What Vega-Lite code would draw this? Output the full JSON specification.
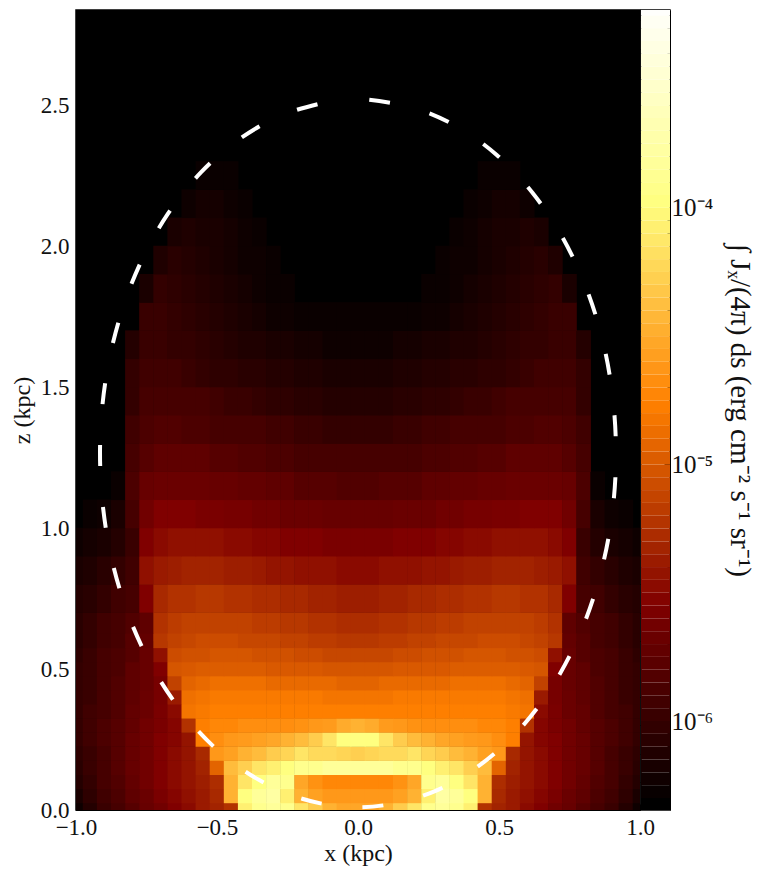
{"$schema":"https://vega.github.io/schema/vega-lite/v6.json","background":"white","padding":{"left":9,"top":8,"right":0,"bottom":0},"spacing":1,"bounds":"flush",
"config":{"axis":{"grid":false,"labelFont":"Liberation Serif","titleFont":"Liberation Serif","labelFontSize":23,"titleFontSize":24,"titleFontWeight":"normal","labelColor":"#111","titleColor":"#111","domainColor":"black","tickColor":"black","labelBound":false,"labelFlush":false,"zindex":1}},
"hconcat":[{"width":564,"height":800,"view":{"fill":"black","stroke":"black","strokeWidth":1.5},
"resolve":{"axis":{"x":"independent","y":"independent"}},
"layer":[
{"data":{"values":[
{"x":-1,"z":0.65,"v":8e-7},{"x":-0.95,"z":0.65,"v":9.2e-7},{"x":-0.9,"z":0.65,"v":1.1e-6},{"x":-0.85,"z":0.65,"v":1.2e-6},{"x":-0.8,"z":0.65,"v":1.4e-6},{"x":-0.75,"z":0.65,"v":1.7e-6},{"x":-0.7,"z":0.65,"v":5.5e-6},{"x":-0.65,"z":0.65,"v":6.3e-6},{"x":-0.6,"z":0.65,"v":6.8e-6},{"x":-0.55,"z":0.65,"v":6.8e-6},{"x":-0.5,"z":0.65,"v":6.8e-6},{"x":-0.45,"z":0.65,"v":6.8e-6},{"x":-0.4,"z":0.65,"v":6.8e-6},{"x":-0.35,"z":0.65,"v":6.3e-6},{"x":-0.3,"z":0.65,"v":6.3e-6},{"x":-0.25,"z":0.65,"v":5.9e-6},{"x":-0.2,"z":0.65,"v":5.9e-6},{"x":-0.15,"z":0.65,"v":5.5e-6},{"x":-0.1,"z":0.65,"v":5.5e-6},{"x":-0.05,"z":0.65,"v":5.1e-6},{"x":0,"z":0.65,"v":5.1e-6},{"x":0.05,"z":0.65,"v":5.1e-6},{"x":0.1,"z":0.65,"v":5.5e-6},{"x":0.15,"z":0.65,"v":5.5e-6},{"x":0.2,"z":0.65,"v":5.9e-6},{"x":0.25,"z":0.65,"v":5.9e-6},{"x":0.3,"z":0.65,"v":6.3e-6},{"x":0.35,"z":0.65,"v":6.3e-6},{"x":0.4,"z":0.65,"v":6.8e-6},{"x":0.45,"z":0.65,"v":6.8e-6},{"x":0.5,"z":0.65,"v":6.8e-6},{"x":0.55,"z":0.65,"v":6.8e-6},{"x":0.6,"z":0.65,"v":6.8e-6},{"x":0.65,"z":0.65,"v":6.3e-6},{"x":0.7,"z":0.65,"v":5.5e-6},{"x":0.75,"z":0.65,"v":1.7e-6},{"x":0.8,"z":0.65,"v":1.4e-6},{"x":0.85,"z":0.65,"v":1.2e-6},{"x":0.9,"z":0.65,"v":1.1e-6},{"x":0.95,"z":0.65,"v":9.2e-7},{"x":1,"z":0.65,"v":8e-7},
{"x":-1,"z":0.75,"v":7.5e-7},{"x":-0.95,"z":0.75,"v":8e-7},{"x":-0.9,"z":0.75,"v":9.2e-7},{"x":-0.85,"z":0.75,"v":1.1e-6},{"x":-0.8,"z":0.75,"v":1.2e-6},{"x":-0.75,"z":0.75,"v":2.7e-6},{"x":-0.7,"z":0.75,"v":4.8e-6},{"x":-0.65,"z":0.75,"v":5.5e-6},{"x":-0.6,"z":0.75,"v":5.5e-6},{"x":-0.55,"z":0.75,"v":5.9e-6},{"x":-0.5,"z":0.75,"v":5.9e-6},{"x":-0.45,"z":0.75,"v":5.5e-6},{"x":-0.4,"z":0.75,"v":5.5e-6},{"x":-0.35,"z":0.75,"v":5.1e-6},{"x":-0.3,"z":0.75,"v":5.1e-6},{"x":-0.25,"z":0.75,"v":4.8e-6},{"x":-0.2,"z":0.75,"v":4.8e-6},{"x":-0.15,"z":0.75,"v":4.4e-6},{"x":-0.1,"z":0.75,"v":4.4e-6},{"x":-0.05,"z":0.75,"v":4.1e-6},{"x":0,"z":0.75,"v":4.1e-6},{"x":0.05,"z":0.75,"v":4.1e-6},{"x":0.1,"z":0.75,"v":4.4e-6},{"x":0.15,"z":0.75,"v":4.4e-6},{"x":0.2,"z":0.75,"v":4.8e-6},{"x":0.25,"z":0.75,"v":4.8e-6},{"x":0.3,"z":0.75,"v":5.1e-6},{"x":0.35,"z":0.75,"v":5.1e-6},{"x":0.4,"z":0.75,"v":5.5e-6},{"x":0.45,"z":0.75,"v":5.5e-6},{"x":0.5,"z":0.75,"v":5.9e-6},{"x":0.55,"z":0.75,"v":5.9e-6},{"x":0.6,"z":0.75,"v":5.5e-6},{"x":0.65,"z":0.75,"v":5.5e-6},{"x":0.7,"z":0.75,"v":4.8e-6},{"x":0.75,"z":0.75,"v":2.7e-6},{"x":0.8,"z":0.75,"v":1.2e-6},{"x":0.85,"z":0.75,"v":1.1e-6},{"x":0.9,"z":0.75,"v":9.2e-7},{"x":0.95,"z":0.75,"v":8e-7},{"x":1,"z":0.75,"v":7.5e-7},
{"x":-1,"z":0.85,"v":6.5e-7},{"x":-0.95,"z":0.85,"v":7e-7},{"x":-0.9,"z":0.85,"v":8e-7},{"x":-0.85,"z":0.85,"v":9.2e-7},{"x":-0.8,"z":0.85,"v":1.1e-6},{"x":-0.75,"z":0.85,"v":3.4e-6},{"x":-0.7,"z":0.85,"v":3.9e-6},{"x":-0.65,"z":0.85,"v":4.1e-6},{"x":-0.6,"z":0.85,"v":4.4e-6},{"x":-0.55,"z":0.85,"v":4.4e-6},{"x":-0.5,"z":0.85,"v":4.4e-6},{"x":-0.45,"z":0.85,"v":4.1e-6},{"x":-0.4,"z":0.85,"v":4.1e-6},{"x":-0.35,"z":0.85,"v":3.9e-6},{"x":-0.3,"z":0.85,"v":3.6e-6},{"x":-0.25,"z":0.85,"v":3.6e-6},{"x":-0.2,"z":0.85,"v":3.4e-6},{"x":-0.15,"z":0.85,"v":3.4e-6},{"x":-0.1,"z":0.85,"v":3.4e-6},{"x":-0.05,"z":0.85,"v":3.1e-6},{"x":0,"z":0.85,"v":3.1e-6},{"x":0.05,"z":0.85,"v":3.1e-6},{"x":0.1,"z":0.85,"v":3.4e-6},{"x":0.15,"z":0.85,"v":3.4e-6},{"x":0.2,"z":0.85,"v":3.4e-6},{"x":0.25,"z":0.85,"v":3.6e-6},{"x":0.3,"z":0.85,"v":3.6e-6},{"x":0.35,"z":0.85,"v":3.9e-6},{"x":0.4,"z":0.85,"v":4.1e-6},{"x":0.45,"z":0.85,"v":4.1e-6},{"x":0.5,"z":0.85,"v":4.4e-6},{"x":0.55,"z":0.85,"v":4.4e-6},{"x":0.6,"z":0.85,"v":4.4e-6},{"x":0.65,"z":0.85,"v":4.1e-6},{"x":0.7,"z":0.85,"v":3.9e-6},{"x":0.75,"z":0.85,"v":3.4e-6},{"x":0.8,"z":0.85,"v":1.1e-6},{"x":0.85,"z":0.85,"v":9.2e-7},{"x":0.9,"z":0.85,"v":8e-7},{"x":0.95,"z":0.85,"v":7e-7},{"x":1,"z":0.85,"v":6.5e-7},
{"x":-1,"z":0.95,"v":5.5e-7},{"x":-0.95,"z":0.95,"v":6e-7},{"x":-0.9,"z":0.95,"v":6.5e-7},{"x":-0.85,"z":0.95,"v":7.5e-7},{"x":-0.8,"z":0.95,"v":1e-6},{"x":-0.75,"z":0.95,"v":2.7e-6},{"x":-0.7,"z":0.95,"v":3.1e-6},{"x":-0.65,"z":0.95,"v":3.4e-6},{"x":-0.6,"z":0.95,"v":3.4e-6},{"x":-0.55,"z":0.95,"v":3.4e-6},{"x":-0.5,"z":0.95,"v":3.4e-6},{"x":-0.45,"z":0.95,"v":3.1e-6},{"x":-0.4,"z":0.95,"v":3.1e-6},{"x":-0.35,"z":0.95,"v":2.9e-6},{"x":-0.3,"z":0.95,"v":2.9e-6},{"x":-0.25,"z":0.95,"v":2.7e-6},{"x":-0.2,"z":0.95,"v":2.7e-6},{"x":-0.15,"z":0.95,"v":2.7e-6},{"x":-0.1,"z":0.95,"v":2.5e-6},{"x":-0.05,"z":0.95,"v":2.5e-6},{"x":0,"z":0.95,"v":2.5e-6},{"x":0.05,"z":0.95,"v":2.5e-6},{"x":0.1,"z":0.95,"v":2.5e-6},{"x":0.15,"z":0.95,"v":2.7e-6},{"x":0.2,"z":0.95,"v":2.7e-6},{"x":0.25,"z":0.95,"v":2.7e-6},{"x":0.3,"z":0.95,"v":2.9e-6},{"x":0.35,"z":0.95,"v":2.9e-6},{"x":0.4,"z":0.95,"v":3.1e-6},{"x":0.45,"z":0.95,"v":3.1e-6},{"x":0.5,"z":0.95,"v":3.4e-6},{"x":0.55,"z":0.95,"v":3.4e-6},{"x":0.6,"z":0.95,"v":3.4e-6},{"x":0.65,"z":0.95,"v":3.4e-6},{"x":0.7,"z":0.95,"v":3.1e-6},{"x":0.75,"z":0.95,"v":2.7e-6},{"x":0.8,"z":0.95,"v":1e-6},{"x":0.85,"z":0.95,"v":7.5e-7},{"x":0.9,"z":0.95,"v":6.5e-7},{"x":0.95,"z":0.95,"v":6e-7},{"x":1,"z":0.95,"v":5.5e-7},
{"x":-0.95,"z":1.05,"v":5.2e-7},{"x":-0.9,"z":1.05,"v":5.5e-7},{"x":-0.85,"z":1.05,"v":6.5e-7},{"x":-0.8,"z":1.05,"v":1.2e-6},{"x":-0.75,"z":1.05,"v":2.2e-6},{"x":-0.7,"z":1.05,"v":2.7e-6},{"x":-0.65,"z":1.05,"v":2.7e-6},{"x":-0.6,"z":1.05,"v":2.7e-6},{"x":-0.55,"z":1.05,"v":2.5e-6},{"x":-0.5,"z":1.05,"v":2.5e-6},{"x":-0.45,"z":1.05,"v":2.4e-6},{"x":-0.4,"z":1.05,"v":2.4e-6},{"x":-0.35,"z":1.05,"v":2.2e-6},{"x":-0.3,"z":1.05,"v":2.2e-6},{"x":-0.25,"z":1.05,"v":2e-6},{"x":-0.2,"z":1.05,"v":2e-6},{"x":-0.15,"z":1.05,"v":2e-6},{"x":-0.1,"z":1.05,"v":1.9e-6},{"x":-0.05,"z":1.05,"v":1.9e-6},{"x":0,"z":1.05,"v":1.9e-6},{"x":0.05,"z":1.05,"v":1.9e-6},{"x":0.1,"z":1.05,"v":1.9e-6},{"x":0.15,"z":1.05,"v":2e-6},{"x":0.2,"z":1.05,"v":2e-6},{"x":0.25,"z":1.05,"v":2e-6},{"x":0.3,"z":1.05,"v":2.2e-6},{"x":0.35,"z":1.05,"v":2.2e-6},{"x":0.4,"z":1.05,"v":2.4e-6},{"x":0.45,"z":1.05,"v":2.4e-6},{"x":0.5,"z":1.05,"v":2.5e-6},{"x":0.55,"z":1.05,"v":2.5e-6},{"x":0.6,"z":1.05,"v":2.7e-6},{"x":0.65,"z":1.05,"v":2.7e-6},{"x":0.7,"z":1.05,"v":2.7e-6},{"x":0.75,"z":1.05,"v":2.2e-6},{"x":0.8,"z":1.05,"v":1.2e-6},{"x":0.85,"z":1.05,"v":6.5e-7},{"x":0.9,"z":1.05,"v":5.5e-7},{"x":0.95,"z":1.05,"v":5.2e-7},
{"x":-0.85,"z":1.15,"v":5.2e-7},{"x":-0.8,"z":1.15,"v":1.3e-6},{"x":-0.75,"z":1.15,"v":1.9e-6},{"x":-0.7,"z":1.15,"v":2e-6},{"x":-0.65,"z":1.15,"v":2e-6},{"x":-0.6,"z":1.15,"v":2e-6},{"x":-0.55,"z":1.15,"v":2e-6},{"x":-0.5,"z":1.15,"v":1.9e-6},{"x":-0.45,"z":1.15,"v":1.9e-6},{"x":-0.4,"z":1.15,"v":1.8e-6},{"x":-0.35,"z":1.15,"v":1.8e-6},{"x":-0.3,"z":1.15,"v":1.7e-6},{"x":-0.25,"z":1.15,"v":1.7e-6},{"x":-0.2,"z":1.15,"v":1.5e-6},{"x":-0.15,"z":1.15,"v":1.5e-6},{"x":-0.1,"z":1.15,"v":1.5e-6},{"x":-0.05,"z":1.15,"v":1.4e-6},{"x":0,"z":1.15,"v":1.4e-6},{"x":0.05,"z":1.15,"v":1.4e-6},{"x":0.1,"z":1.15,"v":1.5e-6},{"x":0.15,"z":1.15,"v":1.5e-6},{"x":0.2,"z":1.15,"v":1.5e-6},{"x":0.25,"z":1.15,"v":1.7e-6},{"x":0.3,"z":1.15,"v":1.7e-6},{"x":0.35,"z":1.15,"v":1.8e-6},{"x":0.4,"z":1.15,"v":1.8e-6},{"x":0.45,"z":1.15,"v":1.9e-6},{"x":0.5,"z":1.15,"v":1.9e-6},{"x":0.55,"z":1.15,"v":2e-6},{"x":0.6,"z":1.15,"v":2e-6},{"x":0.65,"z":1.15,"v":2e-6},{"x":0.7,"z":1.15,"v":2e-6},{"x":0.75,"z":1.15,"v":1.9e-6},{"x":0.8,"z":1.15,"v":1.3e-6},{"x":0.85,"z":1.15,"v":5.2e-7},
{"x":-0.8,"z":1.25,"v":1.2e-6},{"x":-0.75,"z":1.25,"v":1.5e-6},{"x":-0.7,"z":1.25,"v":1.7e-6},{"x":-0.65,"z":1.25,"v":1.7e-6},{"x":-0.6,"z":1.25,"v":1.7e-6},{"x":-0.55,"z":1.25,"v":1.7e-6},{"x":-0.5,"z":1.25,"v":1.5e-6},{"x":-0.45,"z":1.25,"v":1.5e-6},{"x":-0.4,"z":1.25,"v":1.4e-6},{"x":-0.35,"z":1.25,"v":1.4e-6},{"x":-0.3,"z":1.25,"v":1.3e-6},{"x":-0.25,"z":1.25,"v":1.3e-6},{"x":-0.2,"z":1.25,"v":1.2e-6},{"x":-0.15,"z":1.25,"v":1.2e-6},{"x":-0.1,"z":1.25,"v":1.2e-6},{"x":-0.05,"z":1.25,"v":1.2e-6},{"x":0,"z":1.25,"v":1.2e-6},{"x":0.05,"z":1.25,"v":1.2e-6},{"x":0.1,"z":1.25,"v":1.2e-6},{"x":0.15,"z":1.25,"v":1.2e-6},{"x":0.2,"z":1.25,"v":1.2e-6},{"x":0.25,"z":1.25,"v":1.3e-6},{"x":0.3,"z":1.25,"v":1.3e-6},{"x":0.35,"z":1.25,"v":1.4e-6},{"x":0.4,"z":1.25,"v":1.4e-6},{"x":0.45,"z":1.25,"v":1.5e-6},{"x":0.5,"z":1.25,"v":1.5e-6},{"x":0.55,"z":1.25,"v":1.7e-6},{"x":0.6,"z":1.25,"v":1.7e-6},{"x":0.65,"z":1.25,"v":1.7e-6},{"x":0.7,"z":1.25,"v":1.7e-6},{"x":0.75,"z":1.25,"v":1.5e-6},{"x":0.8,"z":1.25,"v":1.2e-6},
{"x":-0.8,"z":1.35,"v":1.1e-6},{"x":-0.75,"z":1.35,"v":1.3e-6},{"x":-0.7,"z":1.35,"v":1.4e-6},{"x":-0.65,"z":1.35,"v":1.4e-6},{"x":-0.6,"z":1.35,"v":1.3e-6},{"x":-0.55,"z":1.35,"v":1.3e-6},{"x":-0.5,"z":1.35,"v":1.2e-6},{"x":-0.45,"z":1.35,"v":1.2e-6},{"x":-0.4,"z":1.35,"v":1.2e-6},{"x":-0.35,"z":1.35,"v":1.2e-6},{"x":-0.3,"z":1.35,"v":1.1e-6},{"x":-0.25,"z":1.35,"v":1.1e-6},{"x":-0.2,"z":1.35,"v":1e-6},{"x":-0.15,"z":1.35,"v":1e-6},{"x":-0.1,"z":1.35,"v":9.2e-7},{"x":-0.05,"z":1.35,"v":9.2e-7},{"x":0,"z":1.35,"v":9.2e-7},{"x":0.05,"z":1.35,"v":9.2e-7},{"x":0.1,"z":1.35,"v":9.2e-7},{"x":0.15,"z":1.35,"v":1e-6},{"x":0.2,"z":1.35,"v":1e-6},{"x":0.25,"z":1.35,"v":1.1e-6},{"x":0.3,"z":1.35,"v":1.1e-6},{"x":0.35,"z":1.35,"v":1.2e-6},{"x":0.4,"z":1.35,"v":1.2e-6},{"x":0.45,"z":1.35,"v":1.2e-6},{"x":0.5,"z":1.35,"v":1.2e-6},{"x":0.55,"z":1.35,"v":1.3e-6},{"x":0.6,"z":1.35,"v":1.3e-6},{"x":0.65,"z":1.35,"v":1.4e-6},{"x":0.7,"z":1.35,"v":1.4e-6},{"x":0.75,"z":1.35,"v":1.3e-6},{"x":0.8,"z":1.35,"v":1.1e-6},
{"x":-0.8,"z":1.45,"v":9.2e-7},{"x":-0.75,"z":1.45,"v":1.2e-6},{"x":-0.7,"z":1.45,"v":1.2e-6},{"x":-0.65,"z":1.45,"v":1.2e-6},{"x":-0.6,"z":1.45,"v":1.2e-6},{"x":-0.55,"z":1.45,"v":1.2e-6},{"x":-0.5,"z":1.45,"v":1.1e-6},{"x":-0.45,"z":1.45,"v":1e-6},{"x":-0.4,"z":1.45,"v":1e-6},{"x":-0.35,"z":1.45,"v":9.2e-7},{"x":-0.3,"z":1.45,"v":8.6e-7},{"x":-0.25,"z":1.45,"v":8.6e-7},{"x":-0.2,"z":1.45,"v":8e-7},{"x":-0.15,"z":1.45,"v":8e-7},{"x":-0.1,"z":1.45,"v":7.5e-7},{"x":-0.05,"z":1.45,"v":7.5e-7},{"x":0,"z":1.45,"v":7.5e-7},{"x":0.05,"z":1.45,"v":7.5e-7},{"x":0.1,"z":1.45,"v":7.5e-7},{"x":0.15,"z":1.45,"v":8e-7},{"x":0.2,"z":1.45,"v":8e-7},{"x":0.25,"z":1.45,"v":8.6e-7},{"x":0.3,"z":1.45,"v":8.6e-7},{"x":0.35,"z":1.45,"v":9.2e-7},{"x":0.4,"z":1.45,"v":1e-6},{"x":0.45,"z":1.45,"v":1e-6},{"x":0.5,"z":1.45,"v":1.1e-6},{"x":0.55,"z":1.45,"v":1.2e-6},{"x":0.6,"z":1.45,"v":1.2e-6},{"x":0.65,"z":1.45,"v":1.2e-6},{"x":0.7,"z":1.45,"v":1.2e-6},{"x":0.75,"z":1.45,"v":1.2e-6},{"x":0.8,"z":1.45,"v":9.2e-7},
{"x":-0.8,"z":1.55,"v":9.2e-7},{"x":-0.75,"z":1.55,"v":1.1e-6},{"x":-0.7,"z":1.55,"v":1.1e-6},{"x":-0.65,"z":1.55,"v":1.1e-6},{"x":-0.6,"z":1.55,"v":1e-6},{"x":-0.55,"z":1.55,"v":9.2e-7},{"x":-0.5,"z":1.55,"v":8.6e-7},{"x":-0.45,"z":1.55,"v":8.6e-7},{"x":-0.4,"z":1.55,"v":8e-7},{"x":-0.35,"z":1.55,"v":8e-7},{"x":-0.3,"z":1.55,"v":7.5e-7},{"x":-0.25,"z":1.55,"v":7.5e-7},{"x":-0.2,"z":1.55,"v":7e-7},{"x":-0.15,"z":1.55,"v":7e-7},{"x":-0.1,"z":1.55,"v":6.5e-7},{"x":-0.05,"z":1.55,"v":6.5e-7},{"x":0,"z":1.55,"v":6.5e-7},{"x":0.05,"z":1.55,"v":6.5e-7},{"x":0.1,"z":1.55,"v":6.5e-7},{"x":0.15,"z":1.55,"v":7e-7},{"x":0.2,"z":1.55,"v":7e-7},{"x":0.25,"z":1.55,"v":7.5e-7},{"x":0.3,"z":1.55,"v":7.5e-7},{"x":0.35,"z":1.55,"v":8e-7},{"x":0.4,"z":1.55,"v":8e-7},{"x":0.45,"z":1.55,"v":8.6e-7},{"x":0.5,"z":1.55,"v":8.6e-7},{"x":0.55,"z":1.55,"v":9.2e-7},{"x":0.6,"z":1.55,"v":1e-6},{"x":0.65,"z":1.55,"v":1.1e-6},{"x":0.7,"z":1.55,"v":1.1e-6},{"x":0.75,"z":1.55,"v":1.1e-6},{"x":0.8,"z":1.55,"v":9.2e-7},
{"x":-0.8,"z":1.65,"v":7.5e-7},{"x":-0.75,"z":1.65,"v":1e-6},{"x":-0.7,"z":1.65,"v":1e-6},{"x":-0.65,"z":1.65,"v":9.2e-7},{"x":-0.6,"z":1.65,"v":9.2e-7},{"x":-0.55,"z":1.65,"v":8.6e-7},{"x":-0.5,"z":1.65,"v":8e-7},{"x":-0.45,"z":1.65,"v":7.5e-7},{"x":-0.4,"z":1.65,"v":7e-7},{"x":-0.35,"z":1.65,"v":7e-7},{"x":-0.3,"z":1.65,"v":6.5e-7},{"x":-0.25,"z":1.65,"v":6.5e-7},{"x":-0.2,"z":1.65,"v":6e-7},{"x":-0.15,"z":1.65,"v":6e-7},{"x":-0.1,"z":1.65,"v":5.5e-7},{"x":-0.05,"z":1.65,"v":5.5e-7},{"x":0,"z":1.65,"v":5.5e-7},{"x":0.05,"z":1.65,"v":5.5e-7},{"x":0.1,"z":1.65,"v":5.5e-7},{"x":0.15,"z":1.65,"v":6e-7},{"x":0.2,"z":1.65,"v":6e-7},{"x":0.25,"z":1.65,"v":6.5e-7},{"x":0.3,"z":1.65,"v":6.5e-7},{"x":0.35,"z":1.65,"v":7e-7},{"x":0.4,"z":1.65,"v":7e-7},{"x":0.45,"z":1.65,"v":7.5e-7},{"x":0.5,"z":1.65,"v":8e-7},{"x":0.55,"z":1.65,"v":8.6e-7},{"x":0.6,"z":1.65,"v":9.2e-7},{"x":0.65,"z":1.65,"v":9.2e-7},{"x":0.7,"z":1.65,"v":1e-6},{"x":0.75,"z":1.65,"v":1e-6},{"x":0.8,"z":1.65,"v":7.5e-7},
{"x":-0.75,"z":1.75,"v":1e-6},{"x":-0.7,"z":1.75,"v":1e-6},{"x":-0.65,"z":1.75,"v":9.2e-7},{"x":-0.6,"z":1.75,"v":8.6e-7},{"x":-0.55,"z":1.75,"v":8e-7},{"x":-0.5,"z":1.75,"v":7.5e-7},{"x":-0.45,"z":1.75,"v":7e-7},{"x":-0.4,"z":1.75,"v":6.5e-7},{"x":-0.35,"z":1.75,"v":6e-7},{"x":-0.3,"z":1.75,"v":5.5e-7},{"x":-0.25,"z":1.75,"v":5.5e-7},{"x":-0.2,"z":1.75,"v":5.2e-7},{"x":-0.15,"z":1.75,"v":5.2e-7},{"x":-0.1,"z":1.75,"v":5.2e-7},{"x":-0.05,"z":1.75,"v":5.2e-7},{"x":0,"z":1.75,"v":5.2e-7},{"x":0.05,"z":1.75,"v":5.2e-7},{"x":0.1,"z":1.75,"v":5.2e-7},{"x":0.15,"z":1.75,"v":5.2e-7},{"x":0.2,"z":1.75,"v":5.2e-7},{"x":0.25,"z":1.75,"v":5.5e-7},{"x":0.3,"z":1.75,"v":5.5e-7},{"x":0.35,"z":1.75,"v":6e-7},{"x":0.4,"z":1.75,"v":6.5e-7},{"x":0.45,"z":1.75,"v":7e-7},{"x":0.5,"z":1.75,"v":7.5e-7},{"x":0.55,"z":1.75,"v":8e-7},{"x":0.6,"z":1.75,"v":8.6e-7},{"x":0.65,"z":1.75,"v":9.2e-7},{"x":0.7,"z":1.75,"v":1e-6},{"x":0.75,"z":1.75,"v":1e-6},
{"x":-0.75,"z":1.85,"v":6.5e-7},{"x":-0.7,"z":1.85,"v":9.2e-7},{"x":-0.65,"z":1.85,"v":8.6e-7},{"x":-0.6,"z":1.85,"v":8e-7},{"x":-0.55,"z":1.85,"v":7.5e-7},{"x":-0.5,"z":1.85,"v":7e-7},{"x":-0.45,"z":1.85,"v":6.5e-7},{"x":-0.4,"z":1.85,"v":6e-7},{"x":-0.35,"z":1.85,"v":5.5e-7},{"x":-0.3,"z":1.85,"v":5.2e-7},{"x":-0.25,"z":1.85,"v":5.2e-7},{"x":0.25,"z":1.85,"v":5.2e-7},{"x":0.3,"z":1.85,"v":5.2e-7},{"x":0.35,"z":1.85,"v":5.5e-7},{"x":0.4,"z":1.85,"v":6e-7},{"x":0.45,"z":1.85,"v":6.5e-7},{"x":0.5,"z":1.85,"v":7e-7},{"x":0.55,"z":1.85,"v":7.5e-7},{"x":0.6,"z":1.85,"v":8e-7},{"x":0.65,"z":1.85,"v":8.6e-7},{"x":0.7,"z":1.85,"v":9.2e-7},{"x":0.75,"z":1.85,"v":6.5e-7},
{"x":-0.7,"z":1.95,"v":7e-7},{"x":-0.65,"z":1.95,"v":8e-7},{"x":-0.6,"z":1.95,"v":7.5e-7},{"x":-0.55,"z":1.95,"v":7e-7},{"x":-0.5,"z":1.95,"v":6.5e-7},{"x":-0.45,"z":1.95,"v":6e-7},{"x":-0.4,"z":1.95,"v":5.5e-7},{"x":-0.35,"z":1.95,"v":5.5e-7},{"x":-0.3,"z":1.95,"v":5.2e-7},{"x":0.3,"z":1.95,"v":5.2e-7},{"x":0.35,"z":1.95,"v":5.5e-7},{"x":0.4,"z":1.95,"v":5.5e-7},{"x":0.45,"z":1.95,"v":6e-7},{"x":0.5,"z":1.95,"v":6.5e-7},{"x":0.55,"z":1.95,"v":7e-7},{"x":0.6,"z":1.95,"v":7.5e-7},{"x":0.65,"z":1.95,"v":8e-7},{"x":0.7,"z":1.95,"v":7e-7},
{"x":-0.65,"z":2.05,"v":6.5e-7},{"x":-0.6,"z":2.05,"v":7e-7},{"x":-0.55,"z":2.05,"v":6.5e-7},{"x":-0.5,"z":2.05,"v":6.5e-7},{"x":-0.45,"z":2.05,"v":6e-7},{"x":-0.4,"z":2.05,"v":5.5e-7},{"x":-0.35,"z":2.05,"v":5.2e-7},{"x":0.35,"z":2.05,"v":5.2e-7},{"x":0.4,"z":2.05,"v":5.5e-7},{"x":0.45,"z":2.05,"v":6e-7},{"x":0.5,"z":2.05,"v":6.5e-7},{"x":0.55,"z":2.05,"v":6.5e-7},{"x":0.6,"z":2.05,"v":7e-7},{"x":0.65,"z":2.05,"v":6.5e-7},
{"x":-0.6,"z":2.15,"v":5.5e-7},{"x":-0.55,"z":2.15,"v":6e-7},{"x":-0.5,"z":2.15,"v":6e-7},{"x":-0.45,"z":2.15,"v":5.5e-7},{"x":-0.4,"z":2.15,"v":5.2e-7},{"x":0.4,"z":2.15,"v":5.2e-7},{"x":0.45,"z":2.15,"v":5.5e-7},{"x":0.5,"z":2.15,"v":6e-7},{"x":0.55,"z":2.15,"v":6e-7},{"x":0.6,"z":2.15,"v":5.5e-7},
{"x":-0.55,"z":2.25,"v":5.2e-7},{"x":-0.5,"z":2.25,"v":5.2e-7},{"x":-0.45,"z":2.25,"v":5.2e-7},{"x":0.45,"z":2.25,"v":5.2e-7},{"x":0.5,"z":2.25,"v":5.2e-7},{"x":0.55,"z":2.25,"v":5.2e-7}
]},"mark":{"type":"rect","width":14.6,"height":28.7,"clip":true},
"encoding":{"x":{"field":"x","type":"quantitative","scale":{"domain":[-1,1],"nice":false},"axis":{"title":"x (kpc)","labelOverlap":false,"values":[-1,-0.5,0,0.5,1],"labelExpr":"replace(format(datum.value,'.1f'),'-','−')","tickSize":-6,"labelPadding":12,"titlePadding":2}},
"y":{"field":"z","type":"quantitative","scale":{"domain":[0,2.837],"nice":false},"axis":{"title":"z (kpc)","labelOverlap":false,"values":[0,0.5,1,1.5,2,2.5],"format":".1f","tickSize":-6,"labelPadding":13,"titlePadding":6}},
"color":{"field":"v","type":"quantitative","legend":null,"scale":{"type":"log","domain":[4.5e-7,2.71e-6,1.63e-5,9.8e-5,5.9e-4],"range":["#000000","#800000","#ff8000","#ffff80","#ffffff"],"interpolate":"rgb","clamp":true}}}},
{"data":{"values":[
{"x":-1,"z":0,"v":5.5e-7},{"x":-0.95,"z":0,"v":7.5e-7},{"x":-0.9,"z":0,"v":1e-6},{"x":-0.85,"z":0,"v":1.2e-6},{"x":-0.8,"z":0,"v":1.5e-6},{"x":-0.75,"z":0,"v":1.9e-6},{"x":-0.7,"z":0,"v":2.2e-6},{"x":-0.65,"z":0,"v":2.7e-6},{"x":-0.6,"z":0,"v":3.1e-6},{"x":-0.55,"z":0,"v":3.9e-6},{"x":-0.5,"z":0,"v":4.4e-6},{"x":-0.45,"z":0,"v":5.5e-6},{"x":-0.4,"z":0,"v":7.9e-5},{"x":-0.35,"z":0,"v":1.2e-4},{"x":-0.3,"z":0,"v":1.4e-4},{"x":-0.25,"z":0,"v":1.2e-4},{"x":-0.2,"z":0,"v":6.8e-5},{"x":-0.15,"z":0,"v":4.8e-5},{"x":-0.1,"z":0,"v":3.3e-5},{"x":-0.05,"z":0,"v":2.8e-5},{"x":0,"z":0,"v":2.8e-5},{"x":0.05,"z":0,"v":2.8e-5},{"x":0.1,"z":0,"v":3.3e-5},{"x":0.15,"z":0,"v":4.8e-5},{"x":0.2,"z":0,"v":6.8e-5},{"x":0.25,"z":0,"v":1.2e-4},{"x":0.3,"z":0,"v":1.4e-4},{"x":0.35,"z":0,"v":1.2e-4},{"x":0.4,"z":0,"v":7.9e-5},{"x":0.45,"z":0,"v":5.5e-6},{"x":0.5,"z":0,"v":4.4e-6},{"x":0.55,"z":0,"v":3.9e-6},{"x":0.6,"z":0,"v":3.1e-6},{"x":0.65,"z":0,"v":2.7e-6},{"x":0.7,"z":0,"v":2.2e-6},{"x":0.75,"z":0,"v":1.9e-6},{"x":0.8,"z":0,"v":1.5e-6},{"x":0.85,"z":0,"v":1.2e-6},{"x":0.9,"z":0,"v":1e-6},{"x":0.95,"z":0,"v":7.5e-7},{"x":1,"z":0,"v":5.5e-7},
{"x":-1,"z":0.05,"v":6.5e-7},{"x":-0.95,"z":0.05,"v":8.6e-7},{"x":-0.9,"z":0.05,"v":1.1e-6},{"x":-0.85,"z":0.05,"v":1.3e-6},{"x":-0.8,"z":0.05,"v":1.7e-6},{"x":-0.75,"z":0.05,"v":2e-6},{"x":-0.7,"z":0.05,"v":2.5e-6},{"x":-0.65,"z":0.05,"v":2.9e-6},{"x":-0.6,"z":0.05,"v":3.4e-6},{"x":-0.55,"z":0.05,"v":3.9e-6},{"x":-0.5,"z":0.05,"v":4.8e-6},{"x":-0.45,"z":0.05,"v":3.3e-5},{"x":-0.4,"z":0.05,"v":9.8e-5},{"x":-0.35,"z":0.05,"v":1.4e-4},{"x":-0.3,"z":0.05,"v":1.6e-4},{"x":-0.25,"z":0.05,"v":7.9e-5},{"x":-0.2,"z":0.05,"v":3.3e-5},{"x":-0.15,"z":0.05,"v":2.6e-5},{"x":-0.1,"z":0.05,"v":2.3e-5},{"x":-0.05,"z":0.05,"v":2.3e-5},{"x":0,"z":0.05,"v":2.3e-5},{"x":0.05,"z":0.05,"v":2.3e-5},{"x":0.1,"z":0.05,"v":2.3e-5},{"x":0.15,"z":0.05,"v":2.6e-5},{"x":0.2,"z":0.05,"v":3.3e-5},{"x":0.25,"z":0.05,"v":7.9e-5},{"x":0.3,"z":0.05,"v":1.6e-4},{"x":0.35,"z":0.05,"v":1.4e-4},{"x":0.4,"z":0.05,"v":9.8e-5},{"x":0.45,"z":0.05,"v":3.3e-5},{"x":0.5,"z":0.05,"v":4.8e-6},{"x":0.55,"z":0.05,"v":3.9e-6},{"x":0.6,"z":0.05,"v":3.4e-6},{"x":0.65,"z":0.05,"v":2.9e-6},{"x":0.7,"z":0.05,"v":2.5e-6},{"x":0.75,"z":0.05,"v":2e-6},{"x":0.8,"z":0.05,"v":1.7e-6},{"x":0.85,"z":0.05,"v":1.3e-6},{"x":0.9,"z":0.05,"v":1.1e-6},{"x":0.95,"z":0.05,"v":8.6e-7},{"x":1,"z":0.05,"v":6.5e-7},
{"x":-1,"z":0.1,"v":7.5e-7},{"x":-0.95,"z":0.1,"v":9.2e-7},{"x":-0.9,"z":0.1,"v":1.2e-6},{"x":-0.85,"z":0.1,"v":1.4e-6},{"x":-0.8,"z":0.1,"v":1.8e-6},{"x":-0.75,"z":0.1,"v":2.2e-6},{"x":-0.7,"z":0.1,"v":2.7e-6},{"x":-0.65,"z":0.1,"v":3.1e-6},{"x":-0.6,"z":0.1,"v":3.6e-6},{"x":-0.55,"z":0.1,"v":4.1e-6},{"x":-0.5,"z":0.1,"v":5.1e-6},{"x":-0.45,"z":0.1,"v":3.3e-5},{"x":-0.4,"z":0.1,"v":6.8e-5},{"x":-0.35,"z":0.1,"v":9.8e-5},{"x":-0.3,"z":0.1,"v":1.4e-4},{"x":-0.25,"z":0.1,"v":1.2e-4},{"x":-0.2,"z":0.1,"v":2.8e-5},{"x":-0.15,"z":0.1,"v":2.1e-5},{"x":-0.1,"z":0.1,"v":1.8e-5},{"x":-0.05,"z":0.1,"v":1.8e-5},{"x":0,"z":0.1,"v":1.8e-5},{"x":0.05,"z":0.1,"v":1.8e-5},{"x":0.1,"z":0.1,"v":1.8e-5},{"x":0.15,"z":0.1,"v":2.1e-5},{"x":0.2,"z":0.1,"v":2.8e-5},{"x":0.25,"z":0.1,"v":1.2e-4},{"x":0.3,"z":0.1,"v":1.4e-4},{"x":0.35,"z":0.1,"v":9.8e-5},{"x":0.4,"z":0.1,"v":6.8e-5},{"x":0.45,"z":0.1,"v":3.3e-5},{"x":0.5,"z":0.1,"v":5.1e-6},{"x":0.55,"z":0.1,"v":4.1e-6},{"x":0.6,"z":0.1,"v":3.6e-6},{"x":0.65,"z":0.1,"v":3.1e-6},{"x":0.7,"z":0.1,"v":2.7e-6},{"x":0.75,"z":0.1,"v":2.2e-6},{"x":0.8,"z":0.1,"v":1.8e-6},{"x":0.85,"z":0.1,"v":1.4e-6},{"x":0.9,"z":0.1,"v":1.2e-6},{"x":0.95,"z":0.1,"v":9.2e-7},{"x":1,"z":0.1,"v":7.5e-7},
{"x":-1,"z":0.15,"v":8e-7},{"x":-0.95,"z":0.15,"v":1e-6},{"x":-0.9,"z":0.15,"v":1.2e-6},{"x":-0.85,"z":0.15,"v":1.5e-6},{"x":-0.8,"z":0.15,"v":1.9e-6},{"x":-0.75,"z":0.15,"v":2.2e-6},{"x":-0.7,"z":0.15,"v":2.7e-6},{"x":-0.65,"z":0.15,"v":3.1e-6},{"x":-0.6,"z":0.15,"v":3.6e-6},{"x":-0.55,"z":0.15,"v":4.4e-6},{"x":-0.5,"z":0.15,"v":1.1e-5},{"x":-0.45,"z":0.15,"v":3.8e-5},{"x":-0.4,"z":0.15,"v":5e-5},{"x":-0.35,"z":0.15,"v":6.8e-5},{"x":-0.3,"z":0.15,"v":7.9e-5},{"x":-0.25,"z":0.15,"v":9.8e-5},{"x":-0.2,"z":0.15,"v":1.2e-4},{"x":-0.15,"z":0.15,"v":1.2e-4},{"x":-0.1,"z":0.15,"v":1.4e-4},{"x":-0.05,"z":0.15,"v":1.4e-4},{"x":0,"z":0.15,"v":1.4e-4},{"x":0.05,"z":0.15,"v":1.4e-4},{"x":0.1,"z":0.15,"v":1.4e-4},{"x":0.15,"z":0.15,"v":1.2e-4},{"x":0.2,"z":0.15,"v":1.2e-4},{"x":0.25,"z":0.15,"v":9.8e-5},{"x":0.3,"z":0.15,"v":7.9e-5},{"x":0.35,"z":0.15,"v":6.8e-5},{"x":0.4,"z":0.15,"v":5e-5},{"x":0.45,"z":0.15,"v":3.8e-5},{"x":0.5,"z":0.15,"v":1.1e-5},{"x":0.55,"z":0.15,"v":4.4e-6},{"x":0.6,"z":0.15,"v":3.6e-6},{"x":0.65,"z":0.15,"v":3.1e-6},{"x":0.7,"z":0.15,"v":2.7e-6},{"x":0.75,"z":0.15,"v":2.2e-6},{"x":0.8,"z":0.15,"v":1.9e-6},{"x":0.85,"z":0.15,"v":1.5e-6},{"x":0.9,"z":0.15,"v":1.2e-6},{"x":0.95,"z":0.15,"v":1e-6},{"x":1,"z":0.15,"v":8e-7},
{"x":-1,"z":0.2,"v":8.6e-7},{"x":-0.95,"z":0.2,"v":1e-6},{"x":-0.9,"z":0.2,"v":1.2e-6},{"x":-0.85,"z":0.2,"v":1.5e-6},{"x":-0.8,"z":0.2,"v":1.9e-6},{"x":-0.75,"z":0.2,"v":2.2e-6},{"x":-0.7,"z":0.2,"v":2.7e-6},{"x":-0.65,"z":0.2,"v":3.1e-6},{"x":-0.6,"z":0.2,"v":3.6e-6},{"x":-0.55,"z":0.2,"v":4.8e-6},{"x":-0.5,"z":0.2,"v":2.3e-5},{"x":-0.45,"z":0.2,"v":2.6e-5},{"x":-0.4,"z":0.2,"v":3.3e-5},{"x":-0.35,"z":0.2,"v":3.8e-5},{"x":-0.3,"z":0.2,"v":4.8e-5},{"x":-0.25,"z":0.2,"v":5.4e-5},{"x":-0.2,"z":0.2,"v":6.8e-5},{"x":-0.15,"z":0.2,"v":5.8e-5},{"x":-0.1,"z":0.2,"v":5.8e-5},{"x":-0.05,"z":0.2,"v":5.4e-5},{"x":0,"z":0.2,"v":5e-5},{"x":0.05,"z":0.2,"v":5.4e-5},{"x":0.1,"z":0.2,"v":5.8e-5},{"x":0.15,"z":0.2,"v":5.8e-5},{"x":0.2,"z":0.2,"v":6.8e-5},{"x":0.25,"z":0.2,"v":5.4e-5},{"x":0.3,"z":0.2,"v":4.8e-5},{"x":0.35,"z":0.2,"v":3.8e-5},{"x":0.4,"z":0.2,"v":3.3e-5},{"x":0.45,"z":0.2,"v":2.6e-5},{"x":0.5,"z":0.2,"v":2.3e-5},{"x":0.55,"z":0.2,"v":4.8e-6},{"x":0.6,"z":0.2,"v":3.6e-6},{"x":0.65,"z":0.2,"v":3.1e-6},{"x":0.7,"z":0.2,"v":2.7e-6},{"x":0.75,"z":0.2,"v":2.2e-6},{"x":0.8,"z":0.2,"v":1.9e-6},{"x":0.85,"z":0.2,"v":1.5e-6},{"x":0.9,"z":0.2,"v":1.2e-6},{"x":0.95,"z":0.2,"v":1e-6},{"x":1,"z":0.2,"v":8.6e-7},
{"x":-1,"z":0.25,"v":9.2e-7},{"x":-0.95,"z":0.25,"v":1.1e-6},{"x":-0.9,"z":0.25,"v":1.3e-6},{"x":-0.85,"z":0.25,"v":1.5e-6},{"x":-0.8,"z":0.25,"v":1.9e-6},{"x":-0.75,"z":0.25,"v":2.2e-6},{"x":-0.7,"z":0.25,"v":2.7e-6},{"x":-0.65,"z":0.25,"v":2.9e-6},{"x":-0.6,"z":0.25,"v":3.6e-6},{"x":-0.55,"z":0.25,"v":1.6e-5},{"x":-0.5,"z":0.25,"v":2e-5},{"x":-0.45,"z":0.25,"v":2.3e-5},{"x":-0.4,"z":0.25,"v":2.4e-5},{"x":-0.35,"z":0.25,"v":2.6e-5},{"x":-0.3,"z":0.25,"v":2.8e-5},{"x":-0.25,"z":0.25,"v":3.3e-5},{"x":-0.2,"z":0.25,"v":3.8e-5},{"x":-0.15,"z":0.25,"v":4.8e-5},{"x":-0.1,"z":0.25,"v":6.8e-5},{"x":-0.05,"z":0.25,"v":9.8e-5},{"x":0,"z":0.25,"v":1e-4},{"x":0.05,"z":0.25,"v":9.8e-5},{"x":0.1,"z":0.25,"v":6.8e-5},{"x":0.15,"z":0.25,"v":4.8e-5},{"x":0.2,"z":0.25,"v":3.8e-5},{"x":0.25,"z":0.25,"v":3.3e-5},{"x":0.3,"z":0.25,"v":2.8e-5},{"x":0.35,"z":0.25,"v":2.6e-5},{"x":0.4,"z":0.25,"v":2.4e-5},{"x":0.45,"z":0.25,"v":2.3e-5},{"x":0.5,"z":0.25,"v":2e-5},{"x":0.55,"z":0.25,"v":1.6e-5},{"x":0.6,"z":0.25,"v":3.6e-6},{"x":0.65,"z":0.25,"v":2.9e-6},{"x":0.7,"z":0.25,"v":2.7e-6},{"x":0.75,"z":0.25,"v":2.2e-6},{"x":0.8,"z":0.25,"v":1.9e-6},{"x":0.85,"z":0.25,"v":1.5e-6},{"x":0.9,"z":0.25,"v":1.3e-6},{"x":0.95,"z":0.25,"v":1.1e-6},{"x":1,"z":0.25,"v":9.2e-7},
{"x":-1,"z":0.3,"v":9.2e-7},{"x":-0.95,"z":0.3,"v":1.1e-6},{"x":-0.9,"z":0.3,"v":1.3e-6},{"x":-0.85,"z":0.3,"v":1.5e-6},{"x":-0.8,"z":0.3,"v":1.8e-6},{"x":-0.75,"z":0.3,"v":2.2e-6},{"x":-0.7,"z":0.3,"v":2.5e-6},{"x":-0.65,"z":0.3,"v":2.9e-6},{"x":-0.6,"z":0.3,"v":5.5e-6},{"x":-0.55,"z":0.3,"v":1.6e-5},{"x":-0.5,"z":0.3,"v":1.8e-5},{"x":-0.45,"z":0.3,"v":1.8e-5},{"x":-0.4,"z":0.3,"v":2e-5},{"x":-0.35,"z":0.3,"v":2e-5},{"x":-0.3,"z":0.3,"v":2e-5},{"x":-0.25,"z":0.3,"v":2e-5},{"x":-0.2,"z":0.3,"v":2.1e-5},{"x":-0.15,"z":0.3,"v":2.3e-5},{"x":-0.1,"z":0.3,"v":2.4e-5},{"x":-0.05,"z":0.3,"v":3e-5},{"x":0,"z":0.3,"v":3.3e-5},{"x":0.05,"z":0.3,"v":3e-5},{"x":0.1,"z":0.3,"v":2.4e-5},{"x":0.15,"z":0.3,"v":2.3e-5},{"x":0.2,"z":0.3,"v":2.1e-5},{"x":0.25,"z":0.3,"v":2e-5},{"x":0.3,"z":0.3,"v":2e-5},{"x":0.35,"z":0.3,"v":2e-5},{"x":0.4,"z":0.3,"v":2e-5},{"x":0.45,"z":0.3,"v":1.8e-5},{"x":0.5,"z":0.3,"v":1.8e-5},{"x":0.55,"z":0.3,"v":1.6e-5},{"x":0.6,"z":0.3,"v":5.5e-6},{"x":0.65,"z":0.3,"v":2.9e-6},{"x":0.7,"z":0.3,"v":2.5e-6},{"x":0.75,"z":0.3,"v":2.2e-6},{"x":0.8,"z":0.3,"v":1.8e-6},{"x":0.85,"z":0.3,"v":1.5e-6},{"x":0.9,"z":0.3,"v":1.3e-6},{"x":0.95,"z":0.3,"v":1.1e-6},{"x":1,"z":0.3,"v":9.2e-7},
{"x":-1,"z":0.35,"v":9.2e-7},{"x":-0.95,"z":0.35,"v":1.1e-6},{"x":-0.9,"z":0.35,"v":1.2e-6},{"x":-0.85,"z":0.35,"v":1.4e-6},{"x":-0.8,"z":0.35,"v":1.8e-6},{"x":-0.75,"z":0.35,"v":2e-6},{"x":-0.7,"z":0.35,"v":2.5e-6},{"x":-0.65,"z":0.35,"v":3.1e-6},{"x":-0.6,"z":0.35,"v":1.4e-5},{"x":-0.55,"z":0.35,"v":1.5e-5},{"x":-0.5,"z":0.35,"v":1.6e-5},{"x":-0.45,"z":0.35,"v":1.6e-5},{"x":-0.4,"z":0.35,"v":1.6e-5},{"x":-0.35,"z":0.35,"v":1.6e-5},{"x":-0.3,"z":0.35,"v":1.6e-5},{"x":-0.25,"z":0.35,"v":1.6e-5},{"x":-0.2,"z":0.35,"v":1.6e-5},{"x":-0.15,"z":0.35,"v":1.6e-5},{"x":-0.1,"z":0.35,"v":1.6e-5},{"x":-0.05,"z":0.35,"v":1.6e-5},{"x":0,"z":0.35,"v":1.6e-5},{"x":0.05,"z":0.35,"v":1.6e-5},{"x":0.1,"z":0.35,"v":1.6e-5},{"x":0.15,"z":0.35,"v":1.6e-5},{"x":0.2,"z":0.35,"v":1.6e-5},{"x":0.25,"z":0.35,"v":1.6e-5},{"x":0.3,"z":0.35,"v":1.6e-5},{"x":0.35,"z":0.35,"v":1.6e-5},{"x":0.4,"z":0.35,"v":1.6e-5},{"x":0.45,"z":0.35,"v":1.6e-5},{"x":0.5,"z":0.35,"v":1.6e-5},{"x":0.55,"z":0.35,"v":1.5e-5},{"x":0.6,"z":0.35,"v":1.4e-5},{"x":0.65,"z":0.35,"v":3.1e-6},{"x":0.7,"z":0.35,"v":2.5e-6},{"x":0.75,"z":0.35,"v":2e-6},{"x":0.8,"z":0.35,"v":1.8e-6},{"x":0.85,"z":0.35,"v":1.4e-6},{"x":0.9,"z":0.35,"v":1.2e-6},{"x":0.95,"z":0.35,"v":1.1e-6},{"x":1,"z":0.35,"v":9.2e-7},
{"x":-1,"z":0.4,"v":9.2e-7},{"x":-0.95,"z":0.4,"v":1e-6},{"x":-0.9,"z":0.4,"v":1.2e-6},{"x":-0.85,"z":0.4,"v":1.4e-6},{"x":-0.8,"z":0.4,"v":1.7e-6},{"x":-0.75,"z":0.4,"v":2e-6},{"x":-0.7,"z":0.4,"v":2.4e-6},{"x":-0.65,"z":0.4,"v":3.9e-6},{"x":-0.6,"z":0.4,"v":1.3e-5},{"x":-0.55,"z":0.4,"v":1.4e-5},{"x":-0.5,"z":0.4,"v":1.5e-5},{"x":-0.45,"z":0.4,"v":1.5e-5},{"x":-0.4,"z":0.4,"v":1.5e-5},{"x":-0.35,"z":0.4,"v":1.5e-5},{"x":-0.3,"z":0.4,"v":1.5e-5},{"x":-0.25,"z":0.4,"v":1.5e-5},{"x":-0.2,"z":0.4,"v":1.5e-5},{"x":-0.15,"z":0.4,"v":1.5e-5},{"x":-0.1,"z":0.4,"v":1.4e-5},{"x":-0.05,"z":0.4,"v":1.4e-5},{"x":0,"z":0.4,"v":1.4e-5},{"x":0.05,"z":0.4,"v":1.4e-5},{"x":0.1,"z":0.4,"v":1.4e-5},{"x":0.15,"z":0.4,"v":1.5e-5},{"x":0.2,"z":0.4,"v":1.5e-5},{"x":0.25,"z":0.4,"v":1.5e-5},{"x":0.3,"z":0.4,"v":1.5e-5},{"x":0.35,"z":0.4,"v":1.5e-5},{"x":0.4,"z":0.4,"v":1.5e-5},{"x":0.45,"z":0.4,"v":1.5e-5},{"x":0.5,"z":0.4,"v":1.5e-5},{"x":0.55,"z":0.4,"v":1.4e-5},{"x":0.6,"z":0.4,"v":1.3e-5},{"x":0.65,"z":0.4,"v":3.9e-6},{"x":0.7,"z":0.4,"v":2.4e-6},{"x":0.75,"z":0.4,"v":2e-6},{"x":0.8,"z":0.4,"v":1.7e-6},{"x":0.85,"z":0.4,"v":1.4e-6},{"x":0.9,"z":0.4,"v":1.2e-6},{"x":0.95,"z":0.4,"v":1e-6},{"x":1,"z":0.4,"v":9.2e-7},
{"x":-1,"z":0.45,"v":9.2e-7},{"x":-0.95,"z":0.45,"v":1e-6},{"x":-0.9,"z":0.45,"v":1.2e-6},{"x":-0.85,"z":0.45,"v":1.4e-6},{"x":-0.8,"z":0.45,"v":1.7e-6},{"x":-0.75,"z":0.45,"v":1.9e-6},{"x":-0.7,"z":0.45,"v":2.4e-6},{"x":-0.65,"z":0.45,"v":6.8e-6},{"x":-0.6,"z":0.45,"v":1.1e-5},{"x":-0.55,"z":0.45,"v":1.2e-5},{"x":-0.5,"z":0.45,"v":1.3e-5},{"x":-0.45,"z":0.45,"v":1.3e-5},{"x":-0.4,"z":0.45,"v":1.3e-5},{"x":-0.35,"z":0.45,"v":1.3e-5},{"x":-0.3,"z":0.45,"v":1.2e-5},{"x":-0.25,"z":0.45,"v":1.2e-5},{"x":-0.2,"z":0.45,"v":1.2e-5},{"x":-0.15,"z":0.45,"v":1.2e-5},{"x":-0.1,"z":0.45,"v":1.2e-5},{"x":-0.05,"z":0.45,"v":1.1e-5},{"x":0,"z":0.45,"v":1.1e-5},{"x":0.05,"z":0.45,"v":1.1e-5},{"x":0.1,"z":0.45,"v":1.2e-5},{"x":0.15,"z":0.45,"v":1.2e-5},{"x":0.2,"z":0.45,"v":1.2e-5},{"x":0.25,"z":0.45,"v":1.2e-5},{"x":0.3,"z":0.45,"v":1.2e-5},{"x":0.35,"z":0.45,"v":1.3e-5},{"x":0.4,"z":0.45,"v":1.3e-5},{"x":0.45,"z":0.45,"v":1.3e-5},{"x":0.5,"z":0.45,"v":1.3e-5},{"x":0.55,"z":0.45,"v":1.2e-5},{"x":0.6,"z":0.45,"v":1.1e-5},{"x":0.65,"z":0.45,"v":6.8e-6},{"x":0.7,"z":0.45,"v":2.4e-6},{"x":0.75,"z":0.45,"v":1.9e-6},{"x":0.8,"z":0.45,"v":1.7e-6},{"x":0.85,"z":0.45,"v":1.4e-6},{"x":0.9,"z":0.45,"v":1.2e-6},{"x":0.95,"z":0.45,"v":1e-6},{"x":1,"z":0.45,"v":9.2e-7},
{"x":-1,"z":0.5,"v":9.2e-7},{"x":-0.95,"z":0.5,"v":1e-6},{"x":-0.9,"z":0.5,"v":1.2e-6},{"x":-0.85,"z":0.5,"v":1.3e-6},{"x":-0.8,"z":0.5,"v":1.7e-6},{"x":-0.75,"z":0.5,"v":1.9e-6},{"x":-0.7,"z":0.5,"v":2.7e-6},{"x":-0.65,"z":0.5,"v":9e-6},{"x":-0.6,"z":0.5,"v":9.5e-6},{"x":-0.55,"z":0.5,"v":1e-5},{"x":-0.5,"z":0.5,"v":1e-5},{"x":-0.45,"z":0.5,"v":1e-5},{"x":-0.4,"z":0.5,"v":1e-5},{"x":-0.35,"z":0.5,"v":1e-5},{"x":-0.3,"z":0.5,"v":9.5e-6},{"x":-0.25,"z":0.5,"v":9.5e-6},{"x":-0.2,"z":0.5,"v":9.5e-6},{"x":-0.15,"z":0.5,"v":9.5e-6},{"x":-0.1,"z":0.5,"v":9e-6},{"x":-0.05,"z":0.5,"v":9e-6},{"x":0,"z":0.5,"v":9e-6},{"x":0.05,"z":0.5,"v":9e-6},{"x":0.1,"z":0.5,"v":9e-6},{"x":0.15,"z":0.5,"v":9.5e-6},{"x":0.2,"z":0.5,"v":9.5e-6},{"x":0.25,"z":0.5,"v":9.5e-6},{"x":0.3,"z":0.5,"v":9.5e-6},{"x":0.35,"z":0.5,"v":1e-5},{"x":0.4,"z":0.5,"v":1e-5},{"x":0.45,"z":0.5,"v":1e-5},{"x":0.5,"z":0.5,"v":1e-5},{"x":0.55,"z":0.5,"v":1e-5},{"x":0.6,"z":0.5,"v":9.5e-6},{"x":0.65,"z":0.5,"v":9e-6},{"x":0.7,"z":0.5,"v":2.7e-6},{"x":0.75,"z":0.5,"v":1.9e-6},{"x":0.8,"z":0.5,"v":1.7e-6},{"x":0.85,"z":0.5,"v":1.3e-6},{"x":0.9,"z":0.5,"v":1.2e-6},{"x":0.95,"z":0.5,"v":1e-6},{"x":1,"z":0.5,"v":9.2e-7},
{"x":-1,"z":0.55,"v":8.6e-7},{"x":-0.95,"z":0.55,"v":1e-6},{"x":-0.9,"z":0.55,"v":1.2e-6},{"x":-0.85,"z":0.55,"v":1.3e-6},{"x":-0.8,"z":0.55,"v":1.5e-6},{"x":-0.75,"z":0.55,"v":1.9e-6},{"x":-0.7,"z":0.55,"v":3.4e-6},{"x":-0.65,"z":0.55,"v":7.9e-6},{"x":-0.6,"z":0.55,"v":8.4e-6},{"x":-0.55,"z":0.55,"v":8.4e-6},{"x":-0.5,"z":0.55,"v":9e-6},{"x":-0.45,"z":0.55,"v":9e-6},{"x":-0.4,"z":0.55,"v":9e-6},{"x":-0.35,"z":0.55,"v":8.4e-6},{"x":-0.3,"z":0.55,"v":8.4e-6},{"x":-0.25,"z":0.55,"v":8.4e-6},{"x":-0.2,"z":0.55,"v":7.9e-6},{"x":-0.15,"z":0.55,"v":7.9e-6},{"x":-0.1,"z":0.55,"v":7.3e-6},{"x":-0.05,"z":0.55,"v":7.3e-6},{"x":0,"z":0.55,"v":7.3e-6},{"x":0.05,"z":0.55,"v":7.3e-6},{"x":0.1,"z":0.55,"v":7.3e-6},{"x":0.15,"z":0.55,"v":7.9e-6},{"x":0.2,"z":0.55,"v":7.9e-6},{"x":0.25,"z":0.55,"v":8.4e-6},{"x":0.3,"z":0.55,"v":8.4e-6},{"x":0.35,"z":0.55,"v":8.4e-6},{"x":0.4,"z":0.55,"v":9e-6},{"x":0.45,"z":0.55,"v":9e-6},{"x":0.5,"z":0.55,"v":9e-6},{"x":0.55,"z":0.55,"v":8.4e-6},{"x":0.6,"z":0.55,"v":8.4e-6},{"x":0.65,"z":0.55,"v":7.9e-6},{"x":0.7,"z":0.55,"v":3.4e-6},{"x":0.75,"z":0.55,"v":1.9e-6},{"x":0.8,"z":0.55,"v":1.5e-6},{"x":0.85,"z":0.55,"v":1.3e-6},{"x":0.9,"z":0.55,"v":1.2e-6},{"x":0.95,"z":0.55,"v":1e-6},{"x":1,"z":0.55,"v":8.6e-7},
{"x":-1,"z":0.6,"v":8e-7},{"x":-0.95,"z":0.6,"v":9.2e-7},{"x":-0.9,"z":0.6,"v":1.1e-6},{"x":-0.85,"z":0.6,"v":1.2e-6},{"x":-0.8,"z":0.6,"v":1.5e-6},{"x":-0.75,"z":0.6,"v":1.8e-6},{"x":-0.7,"z":0.6,"v":5.9e-6},{"x":-0.65,"z":0.6,"v":6.8e-6},{"x":-0.6,"z":0.6,"v":7.3e-6},{"x":-0.55,"z":0.6,"v":7.9e-6},{"x":-0.5,"z":0.6,"v":7.9e-6},{"x":-0.45,"z":0.6,"v":7.9e-6},{"x":-0.4,"z":0.6,"v":7.3e-6},{"x":-0.35,"z":0.6,"v":7.3e-6},{"x":-0.3,"z":0.6,"v":7.3e-6},{"x":-0.25,"z":0.6,"v":6.8e-6},{"x":-0.2,"z":0.6,"v":6.8e-6},{"x":-0.15,"z":0.6,"v":6.3e-6},{"x":-0.1,"z":0.6,"v":6.3e-6},{"x":-0.05,"z":0.6,"v":5.9e-6},{"x":0,"z":0.6,"v":5.9e-6},{"x":0.05,"z":0.6,"v":5.9e-6},{"x":0.1,"z":0.6,"v":6.3e-6},{"x":0.15,"z":0.6,"v":6.3e-6},{"x":0.2,"z":0.6,"v":6.8e-6},{"x":0.25,"z":0.6,"v":6.8e-6},{"x":0.3,"z":0.6,"v":7.3e-6},{"x":0.35,"z":0.6,"v":7.3e-6},{"x":0.4,"z":0.6,"v":7.3e-6},{"x":0.45,"z":0.6,"v":7.9e-6},{"x":0.5,"z":0.6,"v":7.9e-6},{"x":0.55,"z":0.6,"v":7.9e-6},{"x":0.6,"z":0.6,"v":7.3e-6},{"x":0.65,"z":0.6,"v":6.8e-6},{"x":0.7,"z":0.6,"v":5.9e-6},{"x":0.75,"z":0.6,"v":1.8e-6},{"x":0.8,"z":0.6,"v":1.5e-6},{"x":0.85,"z":0.6,"v":1.2e-6},{"x":0.9,"z":0.6,"v":1.1e-6},{"x":0.95,"z":0.6,"v":9.2e-7},{"x":1,"z":0.6,"v":8e-7}
]},"mark":{"type":"rect","width":14.6,"height":14.6,"clip":true},
"encoding":{"x":{"field":"x","type":"quantitative","axis":null},"y":{"field":"z","type":"quantitative","axis":null},
"color":{"field":"v","type":"quantitative","legend":null,"scale":{"type":"log","domain":[4.5e-7,2.71e-6,1.63e-5,9.8e-5,5.9e-4],"range":["#000000","#800000","#ff8000","#ffff80","#ffffff"],"interpolate":"rgb","clamp":true}}}},
{"data":{"values":[{"o":0,"x":0.04,"z":2.519},{"o":1,"x":0.198,"z":2.49},{"o":2,"x":0.35,"z":2.424},{"o":3,"x":0.492,"z":2.323},{"o":4,"x":0.618,"z":2.19},{"o":5,"x":0.726,"z":2.029},{"o":6,"x":0.812,"z":1.844},{"o":7,"x":0.873,"z":1.642},{"o":8,"x":0.907,"z":1.429},{"o":9,"x":0.914,"z":1.21},{"o":10,"x":0.893,"z":0.993},{"o":11,"x":0.845,"z":0.785},{"o":12,"x":0.772,"z":0.591},{"o":13,"x":0.675,"z":0.417},{"o":14,"x":0.557,"z":0.269},{"o":15,"x":0.422,"z":0.152},{"o":16,"x":0.275,"z":0.068},{"o":17,"x":0.119,"z":0.021},{"o":18,"x":-0.04,"z":0.011},{"o":19,"x":-0.198,"z":0.04},{"o":20,"x":-0.35,"z":0.106},{"o":21,"x":-0.492,"z":0.207},{"o":22,"x":-0.618,"z":0.34},{"o":23,"x":-0.726,"z":0.501},{"o":24,"x":-0.812,"z":0.686},{"o":25,"x":-0.873,"z":0.888},{"o":26,"x":-0.907,"z":1.101},{"o":27,"x":-0.914,"z":1.32},{"o":28,"x":-0.893,"z":1.537},{"o":29,"x":-0.845,"z":1.745},{"o":30,"x":-0.772,"z":1.939},{"o":31,"x":-0.675,"z":2.113},{"o":32,"x":-0.557,"z":2.261},{"o":33,"x":-0.422,"z":2.378},{"o":34,"x":-0.275,"z":2.462},{"o":35,"x":-0.119,"z":2.509},{"o":36,"x":-0.05,"z":2.518}]},"mark":{"type":"line","color":"white","strokeWidth":4,"strokeDash":[21,41],"interpolate":"cardinal","tension":0,"clip":true},"encoding":{"x":{"field":"x","type":"quantitative","axis":{"title":null,"labels":false,"domain":false,"tickSize":-3,"values":[-0.9,-0.8,-0.7,-0.6,-0.4,-0.3,-0.2,-0.1,0.1,0.2,0.3,0.4,0.6,0.7,0.8,0.9]}},"y":{"field":"z","type":"quantitative","axis":{"title":null,"labels":false,"domain":false,"tickSize":-3,"values":[0.1,0.2,0.3,0.4,0.6,0.7,0.8,0.9,1.1,1.2,1.3,1.4,1.6,1.7,1.8,1.9,2.1,2.2,2.3,2.4,2.6,2.7,2.8]}},"order":{"field":"o","type":"quantitative"}}}
]},
{"width":29,"height":800,"view":{"stroke":"black","strokeWidth":1.5},
"data":{"values":[{"v":4.467e-7,"w":5.012e-7},{"v":5.012e-7,"w":5.623e-7},{"v":5.623e-7,"w":6.31e-7},{"v":6.31e-7,"w":7.079e-7},{"v":7.079e-7,"w":7.943e-7},{"v":7.943e-7,"w":8.913e-7},{"v":8.913e-7,"w":1e-6},{"v":1e-6,"w":1.122e-6},{"v":1.122e-6,"w":1.259e-6},{"v":1.259e-6,"w":1.413e-6},{"v":1.413e-6,"w":1.585e-6},{"v":1.585e-6,"w":1.778e-6},{"v":1.778e-6,"w":1.995e-6},{"v":1.995e-6,"w":2.239e-6},{"v":2.239e-6,"w":2.512e-6},{"v":2.512e-6,"w":2.818e-6},{"v":2.818e-6,"w":3.162e-6},{"v":3.162e-6,"w":3.548e-6},{"v":3.548e-6,"w":3.981e-6},{"v":3.981e-6,"w":4.467e-6},{"v":4.467e-6,"w":5.012e-6},{"v":5.012e-6,"w":5.623e-6},{"v":5.623e-6,"w":6.31e-6},{"v":6.31e-6,"w":7.079e-6},{"v":7.079e-6,"w":7.943e-6},{"v":7.943e-6,"w":8.913e-6},{"v":8.913e-6,"w":1e-5},{"v":1e-5,"w":1.122e-5},{"v":1.122e-5,"w":1.259e-5},{"v":1.259e-5,"w":1.413e-5},{"v":1.413e-5,"w":1.585e-5},{"v":1.585e-5,"w":1.778e-5},{"v":1.778e-5,"w":1.995e-5},{"v":1.995e-5,"w":2.239e-5},{"v":2.239e-5,"w":2.512e-5},{"v":2.512e-5,"w":2.818e-5},{"v":2.818e-5,"w":3.162e-5},{"v":3.162e-5,"w":3.548e-5},{"v":3.548e-5,"w":3.981e-5},{"v":3.981e-5,"w":4.467e-5},{"v":4.467e-5,"w":5.012e-5},{"v":5.012e-5,"w":5.623e-5},{"v":5.623e-5,"w":6.31e-5},{"v":6.31e-5,"w":7.079e-5},{"v":7.079e-5,"w":7.943e-5},{"v":7.943e-5,"w":8.913e-5},{"v":8.913e-5,"w":1e-4},{"v":1e-4,"w":1.122e-4},{"v":1.122e-4,"w":1.259e-4},{"v":1.259e-4,"w":1.413e-4},{"v":1.413e-4,"w":1.585e-4},{"v":1.585e-4,"w":1.778e-4},{"v":1.778e-4,"w":1.995e-4},{"v":1.995e-4,"w":2.239e-4},{"v":2.239e-4,"w":2.512e-4},{"v":2.512e-4,"w":2.818e-4},{"v":2.818e-4,"w":3.162e-4},{"v":3.162e-4,"w":3.548e-4},{"v":3.548e-4,"w":3.981e-4},{"v":3.981e-4,"w":4.467e-4},{"v":4.467e-4,"w":5.012e-4},{"v":5.012e-4,"w":5.623e-4},{"v":5.623e-4,"w":6.31e-4}]},
"mark":{"type":"rect","clip":true},
"encoding":{"x":{"value":0},"x2":{"value":29},"y":{"field":"v","type":"quantitative","scale":{"type":"log","domain":[4.5e-7,5.9e-4],"nice":false},"axis":{"orient":"right","labelOverlap":false,"labelFontSize":25,"title":"∫ Jₓ/(4π) ds (erg cm⁻² s⁻¹ sr⁻¹)","titleFontSize":29,"values":[5e-7,6e-7,7e-7,8e-7,9e-7,1e-6,2e-6,3e-6,4e-6,5e-6,6e-6,7e-6,8e-6,9e-6,1e-5,2e-5,3e-5,4e-5,5e-5,6e-5,7e-5,8e-5,9e-5,1e-4,2e-4,3e-4,4e-4,5e-4],"labelExpr":"datum.value==1e-6?'10⁻⁶':datum.value==1e-5?'10⁻⁵':datum.value==1e-4?'10⁻⁴':''","tickSize":{"expr":"(datum.value==1e-6||datum.value==1e-5||datum.value==1e-4)?-6:-3"},"labelPadding":7,"titlePadding":12}},"y2":{"field":"w"},
"color":{"field":"v","type":"quantitative","legend":null,"scale":{"type":"log","domain":[4.5e-7,2.71e-6,1.63e-5,9.8e-5,5.9e-4],"range":["#000000","#800000","#ff8000","#ffff80","#ffffff"],"interpolate":"rgb","clamp":true}}}}
]}
